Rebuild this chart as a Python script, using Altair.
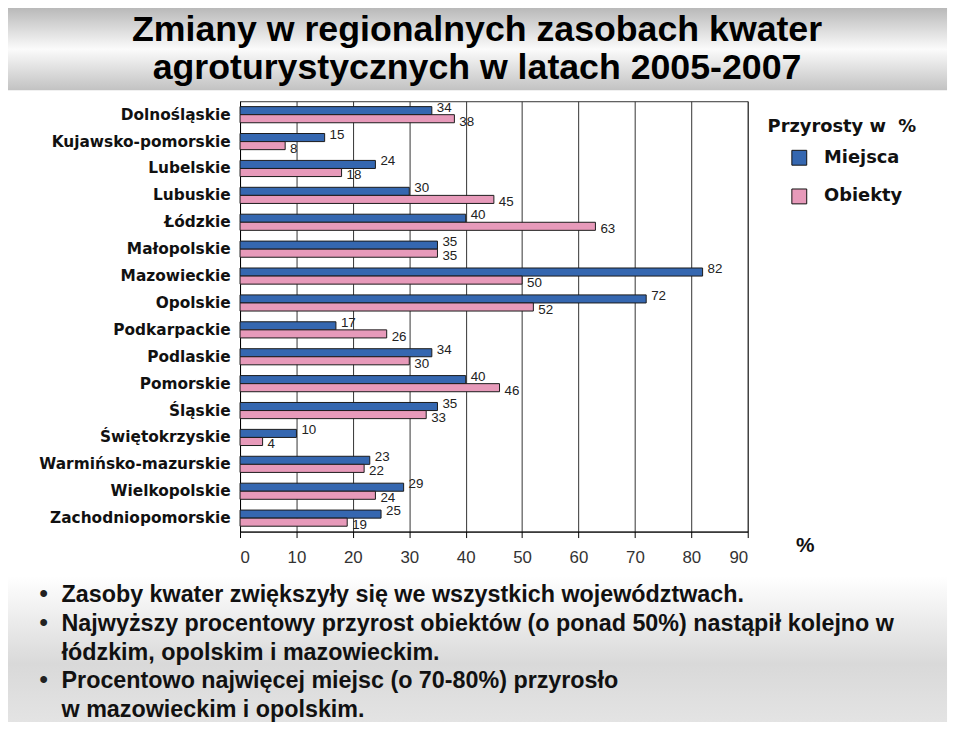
import altair as alt
import pandas as pd

# ---------------- data ----------------
regions = ["Dolnośląskie", "Kujawsko-pomorskie", "Lubelskie", "Lubuskie", "Łódzkie",
           "Małopolskie", "Mazowieckie", "Opolskie", "Podkarpackie", "Podlaskie",
           "Pomorskie", "Śląskie", "Świętokrzyskie", "Warmińsko-mazurskie",
           "Wielkopolskie", "Zachodniopomorskie"]
miejsca = [34, 15, 24, 30, 40, 35, 82, 72, 17, 34, 40, 35, 10, 23, 29, 25]
obiekty = [38, 8, 18, 45, 63, 35, 50, 52, 26, 30, 46, 33, 4, 22, 24, 19]
series = ["Miejsca", "Obiekty"]
x_ticks = [0, 10, 20, 30, 40, 50, 60, 70, 80, 90]

title_lines = ["Zmiany w regionalnych zasobach kwater",
               "agroturystycznych w latach 2005-2007"]
bullet_lines = [
    ("•", "Zasoby kwater zwiększyły się we wszystkich województwach."),
    ("•", "Najwyższy procentowy przyrost obiektów (o ponad 50%) nastąpił kolejno w"),
    ("", "łódzkim, opolskim i mazowieckim."),
    ("•", "Procentowo najwięcej miejsc (o 70-80%) przyrosło"),
    ("", "w mazowieckim i opolskim."),
]

rows = []
for r, m, o in zip(regions, miejsca, obiekty):
    rows.append({"region": r, "series": "Miejsca", "value": m})
    rows.append({"region": r, "series": "Obiekty", "value": o})
df = pd.DataFrame(rows)

# ---------------- layout ----------------
W, H = 512, 434
PAD = {"left": 234, "top": 91, "right": 206, "bottom": 189}
BLUE = "#3567b0"
PINK = "#e79aba"

one = pd.DataFrame({"a": [0]})

def grad(stops):
    return alt.Gradient(gradient="linear", x1=0, y1=0, x2=0, y2=1,
                        stops=[alt.GradientStop(color=c, offset=o) for o, c in stops])

top_banner = alt.Chart(one).mark_rect(
    fill=grad([(0, "#b9b9b9"), (0.5, "#fbfbfb"), (1, "#c2c2c2")])
).encode(x=alt.value(-237), x2=alt.value(713), y=alt.value(-94), y2=alt.value(-11))

bottom_banner = alt.Chart(one).mark_rect(
    fill=grad([(0, "#ffffff"), (0.55, "#d9d9d9"), (1, "#e6e6e6")])
).encode(x=alt.value(-237), x2=alt.value(713), y=alt.value(479), y2=alt.value(640))

title_layers = []
for i, t in enumerate(title_lines):
    title_layers.append(
        alt.Chart(one).mark_text(
            text=t, font="Liberation Sans", fontWeight="bold", fontSize=36,
            align="center", baseline="alphabetic", color="#000000"
        ).encode(x=alt.value(239), y=alt.value(-61 + 39 * i))
    )

bullet_layers = []
for i, (b, t) in enumerate(bullet_lines):
    yb = 505 + 29 * i
    bullet_layers.append(
        alt.Chart(one).mark_text(
            text=t, font="Liberation Sans", fontWeight="bold", fontSize=23.5,
            align="left", baseline="alphabetic", color="#111111"
        ).encode(x=alt.value(-180), y=alt.value(yb))
    )
    if b:
        bullet_layers.append(
            alt.Chart(one).mark_text(
                text=b, font="Liberation Sans", fontWeight="bold", fontSize=24,
                align="center", baseline="alphabetic", color="#222222"
            ).encode(x=alt.value(-198), y=alt.value(yb))
        )

pct = alt.Chart(one).mark_text(
    text="%", font="Liberation Sans", fontWeight="bold", fontSize=21,
    align="center", baseline="middle", color="#111111"
).encode(x=alt.value(570), y=alt.value(449))

base = alt.Chart(df).encode(
    y=alt.Y("region:N", sort=regions, title=None,
            scale=alt.Scale(paddingInner=0.4, paddingOuter=0.2),
            axis=alt.Axis(ticks=False, domain=True, domainColor="#000000",
                          labelFont="DejaVu Sans", labelFontWeight="bold",
                          labelFontSize=15.5, labelColor="#111111",
                          labelPadding=10, labelLimit=0, grid=False)),
    yOffset=alt.YOffset("series:N", sort=series),
    x=alt.X("value:Q", title=None,
            scale=alt.Scale(domain=[0, 90], nice=False),
            axis=alt.Axis(values=x_ticks, grid=True, gridColor="#333333",
                          gridOpacity=1, gridWidth=1, domainColor="#000000",
                          tickColor="#000000", tickSize=6,
                          labelFont="Liberation Sans", labelFontSize=17,
                          labelColor="#333333", labelPadding=12,
                          labelFontWeight="normal")),
)

bars = base.mark_bar(stroke="#1a1a1a", strokeWidth=1).encode(
    color=alt.Color("series:N", sort=series,
                    scale=alt.Scale(domain=series, range=[BLUE, PINK]),
                    legend=alt.Legend(
                        title="Przyrosty w\u00a0\u00a0%", orient="none",
                        legendX=532, legendY=17,
                        titleFont="DejaVu Sans", titleFontSize=18,
                        titleFontWeight="bold", titleColor="#111111",
                        titlePadding=13,
                        labelFont="DejaVu Sans", labelFontSize=18,
                        labelFontWeight="bold", labelColor="#111111",
                        symbolType="square", symbolSize=225,
                        symbolStrokeColor="#111111", symbolStrokeWidth=1,
                        symbolOffset=23, labelOffset=16, rowPadding=19,
                    ))
)

labels_m = base.transform_filter(alt.datum.series == "Miejsca").mark_text(
    align="left", baseline="middle", dx=5, dy=-3, font="Liberation Sans",
    fontSize=13.5, color="#222222"
).encode(text="value:Q")

labels_o = base.transform_filter(alt.datum.series == "Obiekty").mark_text(
    align="left", baseline="middle", dx=5, dy=3, font="Liberation Sans",
    fontSize=13.5, color="#222222"
).encode(text="value:Q")

chart = alt.layer(
    top_banner, bottom_banner, *title_layers, bars, labels_m, labels_o, pct,
    *bullet_layers
).properties(
    width=W, height=H, padding=PAD, autosize=alt.AutoSizeParams(type="none"),
    background="#ffffff"
).configure_view(stroke="#333333", strokeWidth=1)

chart.save("out.html", embed_options={"renderer": "svg", "actions": False})
